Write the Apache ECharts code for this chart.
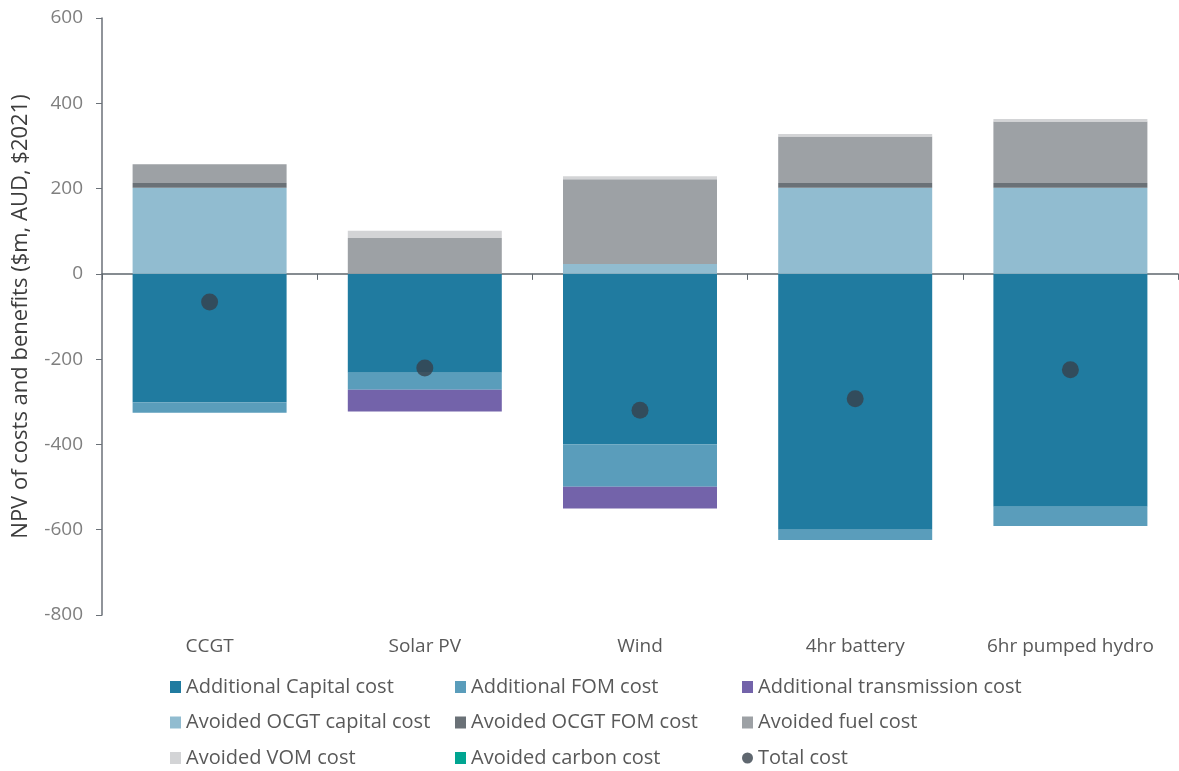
<!DOCTYPE html>
<html>
<head>
<meta charset="utf-8">
<script src="https://cdn.jsdelivr.net/npm/echarts@6/dist/echarts.min.js"></script>
<style>
  html, body { margin: 0; padding: 0; background: #fff; }
  #chart { width: 1179px; height: 771px; }
</style>
</head>
<body>
<div id="chart"></div>
<script>
// Technologies compared
const categories = ['CCGT', 'Solar PV', 'Wind', '4hr battery', '6hr pumped hydro'];

// Costs (negative) and avoided costs (positive), NPV $m AUD 2021
const additionalCapital      = [-301, -232, -400, -600, -546];
const additionalFOM          = [-25, -40, -99, -24, -45];
const additionalTransmission = [0, -51, -51, 0, 0];
const avoidedOCGTCapital     = [202, 0, 23, 202, 202];
const avoidedOCGTFOM         = [11, 0, 0, 11, 11];
const avoidedFuel            = [44, 84, 199, 109, 144];
const avoidedVOM             = [0, 17, 7, 6, 6];
const avoidedCarbon          = [0, 0, 0, 0, 0];
const totalCost              = [-66, -221, -320, -293, -225];

const yTicks = { min: -800, max: 600, step: 200 };

const FONT = "'Open Sans', 'Noto Sans', sans-serif";

const seriesDefs = [
  ['Additional Capital cost', additionalCapital, '#207ba0'],
  ['Additional FOM cost', additionalFOM, '#5a9dbb'],
  ['Additional transmission cost', additionalTransmission, '#7363aa'],
  ['Avoided OCGT capital cost', avoidedOCGTCapital, '#91bcd0'],
  ['Avoided OCGT FOM cost', avoidedOCGTFOM, '#6a7177'],
  ['Avoided fuel cost', avoidedFuel, '#9da1a5'],
  ['Avoided VOM cost', avoidedVOM, '#d3d4d6'],
  ['Avoided carbon cost', avoidedCarbon, '#00a591']
];

const barSeries = seriesDefs.map(([name, data, color]) => ({
  name,
  type: 'bar',
  stack: 'npv',
  xAxisIndex: 0,
  data,
  barWidth: 154,
  itemStyle: { color },
  emphasis: { disabled: true }
}));

const totalSeries = {
  name: 'Total cost',
  type: 'scatter',
  xAxisIndex: 0,
  data: totalCost,
  symbol: 'circle',
  symbolSize: 17,
  itemStyle: { color: '#37414b' },
  z: 5
};

// Legend laid out as a 3-column grid, row by row
const legendOrder = [
  'Additional Capital cost', 'Additional FOM cost', 'Additional transmission cost',
  'Avoided OCGT capital cost', 'Avoided OCGT FOM cost', 'Avoided fuel cost',
  'Avoided VOM cost', 'Avoided carbon cost', 'Total cost'
];
const legendCols = [170, 455, 742];
const legendRows = [687, 722.5, 758];
const legends = legendOrder.map((name, i) => ({
  left: legendCols[i % 3],
  top: legendRows[Math.floor(i / 3)] - 12,
  padding: 0,
  itemWidth: 11,
  itemHeight: 12,
  selectedMode: false,
  data: [{ name, icon: name === 'Total cost' ? 'circle' : 'rect' }],
  textStyle: { fontFamily: FONT, fontSize: 20, color: '#595959', lineHeight: 24 }
}));

const chart = echarts.init(document.getElementById('chart'), null, { renderer: 'canvas' });
chart.setOption({
  animation: false,
  backgroundColor: '#ffffff',
  grid: { left: 102, right: 1, top: 18, bottom: 156, containLabel: false, outerBoundsMode: 'none' },
  legend: legends,
  xAxis: [
    {
      type: 'category',
      data: categories,
      position: 'bottom',
      axisLine: { show: false, onZero: false },
      axisTick: { show: false },
      axisLabel: { interval: 0, hideOverlap: false, fontFamily: FONT, fontSize: 19, color: '#595959', margin: 22 }
    },
    {
      type: 'category',
      data: categories,
      position: 'bottom',
      axisLine: { show: true, onZero: true, lineStyle: { color: '#5f676e', width: 1.5 } },
      axisTick: { show: true, interval: 0, length: 6, lineStyle: { color: '#5f676e', width: 1 } },
      axisLabel: { show: false, interval: 0 }
    }
  ],
  yAxis: {
    type: 'value',
    min: yTicks.min,
    max: yTicks.max,
    interval: yTicks.step,
    name: 'NPV of costs and benefits ($m, AUD, $2021)',
    nameLocation: 'middle',
    nameGap: 70,
    nameTextStyle: { fontFamily: FONT, fontSize: 22, color: '#3d3d3d' },
    axisLine: { show: true, lineStyle: { color: '#6b7178', width: 1.5 } },
    axisTick: { show: true, length: 6, lineStyle: { color: '#6b7178' } },
    splitLine: { show: false },
    axisLabel: { fontFamily: FONT, fontSize: 19, color: '#7f7f7f', margin: 19 }
  },
  series: [...barSeries, totalSeries]
});
</script>
</body>
</html>
